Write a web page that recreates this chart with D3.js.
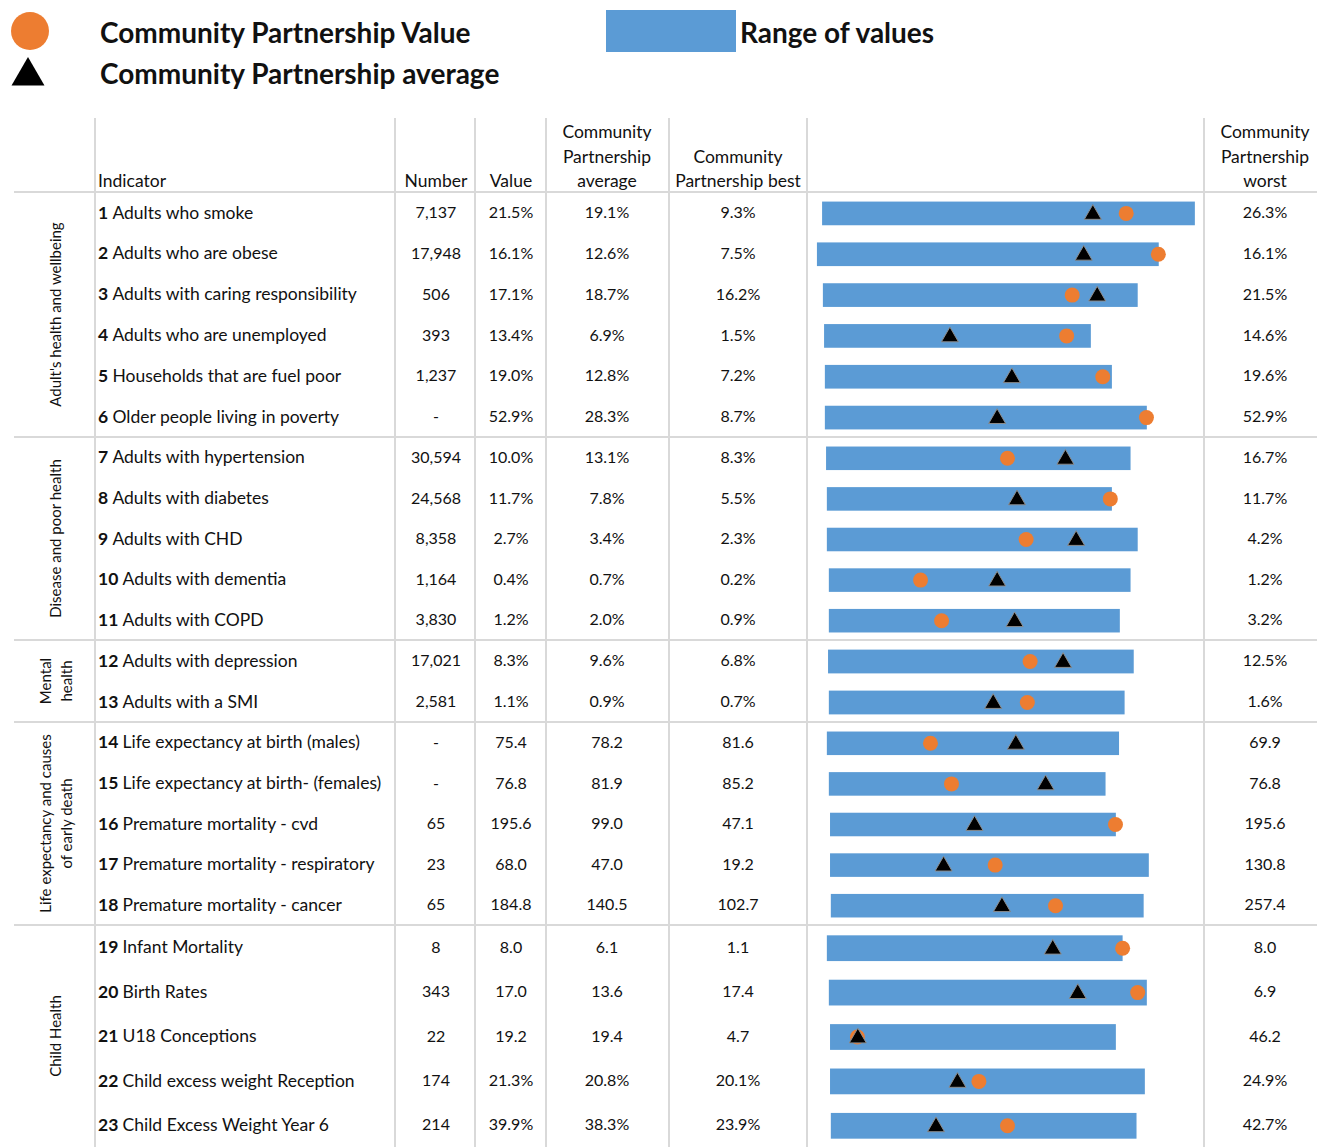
<!DOCTYPE html>
<html>
<head>
<meta charset="utf-8">
<script src="https://cdn.jsdelivr.net/npm/d3@7"></script>
<style>
  body { margin: 0; background: #fff; }
  text { font-family: Lato, "Open Sans", sans-serif; fill: #111; }
</style>
</head>
<body>
<div id="chart-area"></div>
<script>
var groupLabels = [["Adult's health and wellbeing"], ["Disease and poor health"], ["Mental", "health"],
                   ["Life expectancy and causes", "of early death"], ["Child Health"]];
var groupSizes = [6, 5, 2, 5, 5];

var indicators = ["Adults who smoke", "Adults who are obese", "Adults with caring responsibility",
  "Adults who are unemployed", "Households that are fuel poor", "Older people living in poverty",
  "Adults with hypertension", "Adults with diabetes", "Adults with CHD", "Adults with dementia",
  "Adults with COPD", "Adults with depression", "Adults with a SMI", "Life expectancy at birth (males)",
  "Life expectancy at birth- (females)", "Premature mortality - cvd", "Premature mortality - respiratory",
  "Premature mortality - cancer", "Infant Mortality", "Birth Rates", "U18 Conceptions",
  "Child excess weight Reception", "Child Excess Weight Year 6"];
var numbers = ["7,137", "17,948", "506", "393", "1,237", "-", "30,594", "24,568", "8,358", "1,164",
  "3,830", "17,021", "2,581", "-", "-", "65", "23", "65", "8", "343", "22", "174", "214"];
var values = ["21.5%", "16.1%", "17.1%", "13.4%", "19.0%", "52.9%", "10.0%", "11.7%", "2.7%", "0.4%",
  "1.2%", "8.3%", "1.1%", "75.4", "76.8", "195.6", "68.0", "184.8", "8.0", "17.0", "19.2", "21.3%", "39.9%"];
var averages = ["19.1%", "12.6%", "18.7%", "6.9%", "12.8%", "28.3%", "13.1%", "7.8%", "3.4%", "0.7%",
  "2.0%", "9.6%", "0.9%", "78.2", "81.9", "99.0", "47.0", "140.5", "6.1", "13.6", "19.4", "20.8%", "38.3%"];
var bests = ["9.3%", "7.5%", "16.2%", "1.5%", "7.2%", "8.7%", "8.3%", "5.5%", "2.3%", "0.2%",
  "0.9%", "6.8%", "0.7%", "81.6", "85.2", "47.1", "19.2", "102.7", "1.1", "17.4", "4.7", "20.1%", "23.9%"];
var worsts = ["26.3%", "16.1%", "21.5%", "14.6%", "19.6%", "52.9%", "16.7%", "11.7%", "4.2%", "1.2%",
  "3.2%", "12.5%", "1.6%", "69.9", "76.8", "195.6", "130.8", "257.4", "8.0", "6.9", "46.2", "24.9%", "42.7%"];

// spine positions (0-100 across the chart column)
var rangeStart = [3.8, 2.5, 4.0, 4.3, 4.5, 4.5, 4.8, 5.0, 5.0, 5.5, 5.5, 5.3, 5.5, 5.0, 5.5, 5.8, 5.8, 6.0, 5.0, 5.5, 5.8, 5.8, 6.0];
var rangeEnd   = [97.7, 88.6, 83.3, 71.5, 76.8, 85.6, 81.5, 76.8, 83.3, 81.5, 78.8, 82.3, 80.0, 78.6, 75.2, 77.8, 86.1, 84.8, 79.5, 85.6, 77.8, 85.1, 83.0];
var valuePos   = [80.4, 88.5, 66.8, 65.4, 74.5, 85.5, 50.5, 76.4, 55.2, 28.6, 33.9, 56.2, 55.5, 31.1, 36.4, 77.7, 47.4, 62.6, 79.5, 83.3, 12.7, 43.3, 50.5];
var avgPos     = [72.0, 69.7, 73.1, 36.0, 51.6, 47.9, 65.1, 52.9, 67.8, 47.9, 52.3, 64.5, 46.9, 52.6, 60.1, 42.2, 34.4, 49.1, 61.9, 68.2, 12.8, 37.9, 32.5];

var legendItems = ["Community Partnership Value", "Community Partnership average"];
var rangeLegend = "Range of values";

// ---- layout ----
var width = 1317, height = 1147;
var blue = "#5B9BD5", orange = "#ED7D31", gridColor = "#d9d9d9";

var svg = d3.select("#chart-area").append("svg")
    .attr("width", width)
    .attr("height", height);

// column dividers
var colLines = [95, 395, 475, 546, 669, 807, 1204];
var colCenters = { number: 436, value: 511, avg: 607, best: 738, worst: 1265 };
var tableTop = 118, headerBottom = 192;

// row scale: section boundaries map to the horizontal rules
var bounds = [0];
groupSizes.forEach(function(n) { bounds.push(bounds[bounds.length - 1] + n); });
var y = d3.scaleLinear()
    .domain(bounds)
    .range([headerBottom, 437, 640, 722, 925, height]);

var x = d3.scaleLinear().domain([0, 100]).range([colLines[5], colLines[6]]);

var rows = indicators.map(function(name, i) {
    return { i: i, name: name, number: numbers[i], value: values[i], avg: averages[i],
             best: bests[i], worst: worsts[i], start: rangeStart[i], end: rangeEnd[i],
             vPos: valuePos[i], aPos: avgPos[i] };
});

// grid
var grid = svg.append("g").attr("stroke", gridColor).attr("stroke-width", 2);
grid.selectAll(".vline").data(colLines).enter().append("line")
    .attr("x1", function(d) { return d; }).attr("x2", function(d) { return d; })
    .attr("y1", tableTop).attr("y2", height);
grid.selectAll(".hline").data(bounds.slice(0, -1)).enter().append("line")
    .attr("x1", 14).attr("x2", width)
    .attr("y1", function(d) { return y(d); }).attr("y2", function(d) { return y(d); });

// header
var header = svg.append("g").attr("font-size", 17.5);
header.append("text").attr("x", 98).attr("y", 187).text("Indicator");
var headCols = [
    { x: colCenters.number, lines: ["Number"] },
    { x: colCenters.value, lines: ["Value"] },
    { x: colCenters.avg, lines: ["Community", "Partnership", "average"] },
    { x: 738, lines: ["Community", "Partnership best"] },
    { x: colCenters.worst, lines: ["Community", "Partnership", "worst"] }
];
headCols.forEach(function(c) {
    var t = header.append("text").attr("text-anchor", "middle");
    var n = c.lines.length;
    c.lines.forEach(function(l, k) {
        t.append("tspan").attr("x", c.x).attr("y", 187 - (n - 1 - k) * 24.5).text(l);
    });
});

// group labels (rotated)
groupLabels.forEach(function(lines, gi) {
    var cy = (y(bounds[gi]) + y(bounds[gi + 1])) / 2;
    var t = svg.append("text")
        .attr("transform", "translate(56," + cy + ") rotate(-90)")
        .attr("text-anchor", "middle")
        .attr("font-size", 15);
    var n = lines.length;
    lines.forEach(function(l, k) {
        t.append("tspan").attr("x", 0).attr("y", (k - (n - 1) / 2) * 21 + 5).text(l);
    });
});

// table text
var rowG = svg.selectAll(".row").data(rows).enter().append("g")
    .attr("class", "row")
    .attr("transform", function(d) { return "translate(0," + y(d.i + 0.5) + ")"; });

var label = rowG.append("text").attr("x", 98).attr("dy", "0.35em").attr("font-size", 17.5);
label.append("tspan").attr("font-weight", "bold").text(function(d) { return (d.i + 1) + " "; });
label.append("tspan").text(function(d) { return d.name; });

[["number", colCenters.number], ["value", colCenters.value], ["avg", colCenters.avg],
 ["best", colCenters.best], ["worst", colCenters.worst]].forEach(function(c) {
    rowG.append("text")
        .attr("x", c[1]).attr("dy", "0.35em")
        .attr("text-anchor", "middle")
        .attr("font-size", 16)
        .text(function(d) { return d[c[0]]; });
});

// spine marks
function bandH(i) { return y(i + 1) - y(i); }
rowG.append("rect")
    .attr("x", function(d) { return x(d.start); })
    .attr("width", function(d) { return x(d.end) - x(d.start); })
    .attr("y", function(d) { return -bandH(d.i) * 0.29 + 1; })
    .attr("height", function(d) { return bandH(d.i) * 0.58; })
    .attr("fill", blue);

rowG.append("circle")
    .attr("cx", function(d) { return x(d.vPos); })
    .attr("cy", 1)
    .attr("r", 7.5)
    .attr("fill", orange);
rowG.append("path")
    .attr("d", d3.symbol(d3.symbolTriangle).size(125))
    .attr("transform", function(d) { return "translate(" + x(d.aPos) + ",2)"; })
    .attr("fill", "#000")
    .attr("stroke", "#8c8c8c")
    .attr("stroke-width", 1);

// legend
var legend = svg.append("g").attr("font-size", 28).attr("font-weight", "bold");
legend.append("circle").attr("cx", 30).attr("cy", 31).attr("r", 19).attr("fill", orange);
legend.append("path")
    .attr("d", d3.symbol(d3.symbolTriangle).size(470))
    .attr("transform", "translate(28,76)")
    .attr("fill", "#000");
legend.selectAll(".lt").data(legendItems).enter().append("text")
    .attr("x", 100)
    .attr("y", function(d, i) { return 33 + i * 41; })
    .attr("dy", "0.35em")
    .text(function(d) { return d; });
legend.append("rect").attr("x", 606).attr("y", 10).attr("width", 130).attr("height", 42).attr("fill", blue);
legend.append("text").attr("x", 740).attr("y", 33).attr("dy", "0.35em").text(rangeLegend);
</script>
</body>
</html>
